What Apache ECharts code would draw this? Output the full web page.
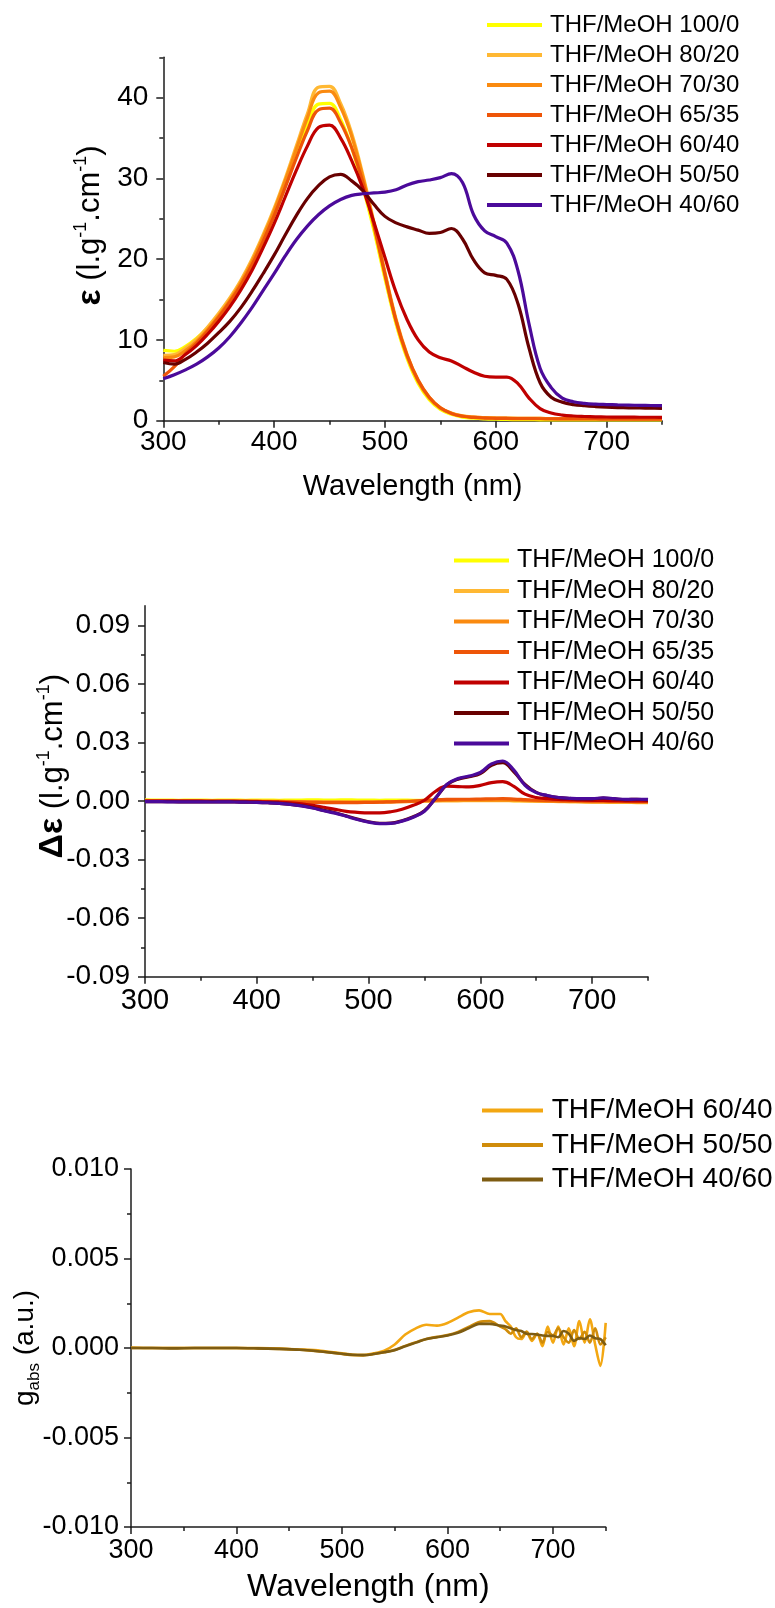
<!DOCTYPE html>
<html><head><meta charset="utf-8">
<script src="https://cdn.jsdelivr.net/npm/echarts@6/dist/echarts.min.js"></script>
<style>html,body{margin:0;padding:0;background:#fff;width:775px;height:1608px;overflow:hidden}
.c{position:absolute;left:0;top:0;width:775px;height:1608px;}</style>
</head><body>
<div id="c1" class="c"></div><div id="c2" class="c"></div><div id="c3" class="c"></div>
<script>
// ---------- DATA ----------
const wavelengths = [300,310,320,330,340,350,360,370,380,390,400,410,420,430,440,450,460,470,480,490,500,510,520,530,540,550,560,570,580,590,600,610,620,630,640,650,660,670,680,690,700,710,720,730,740,750];
const seriesNames = ['THF/MeOH 100/0','THF/MeOH 80/20','THF/MeOH 70/30','THF/MeOH 65/35','THF/MeOH 60/40','THF/MeOH 50/50','THF/MeOH 40/60'];
const colorsA = ['#FFFF00','#FFB833','#FA8A10','#EE5508','#C00000','#680000','#4B0A9A'];

// Panel 1: epsilon (l.g-1.cm-1)
const eps100_0 = [8.7,8.6,9.2,10.2,11.5,13.0,14.8,16.9,19.3,22.2,25.4,29.0,32.9,36.6,39.2,39.3,37.3,33.8,29.0,23.6,17.6,12.0,7.7,4.6,2.6,1.4,0.8,0.45,0.3,0.22,0.18,0.15,0.13,0.12,0.11,0.1,0.1,0.1,0.1,0.1,0.1,0.1,0.1,0.1,0.1,0.1];
const eps80_20 = [8.1,8.2,9.0,10.1,11.6,13.3,15.2,17.4,20.0,23.0,26.3,30.0,34.0,38.0,41.3,41.4,39.3,35.6,30.5,24.6,18.4,12.6,8.2,5.0,2.9,1.6,0.95,0.6,0.45,0.38,0.34,0.32,0.3,0.29,0.28,0.27,0.26,0.26,0.25,0.25,0.24,0.24,0.23,0.23,0.22,0.22];
const eps70_30 = [7.8,7.9,8.7,9.8,11.3,13.0,14.9,17.1,19.7,22.7,26.0,29.7,33.6,37.5,40.6,40.8,38.8,35.2,30.2,24.4,18.2,12.4,8.0,4.9,2.8,1.55,0.9,0.58,0.44,0.37,0.33,0.31,0.3,0.29,0.28,0.27,0.26,0.26,0.25,0.25,0.24,0.24,0.24,0.23,0.23,0.23];
const eps65_35 = [5.5,6.7,8.3,9.6,11.1,12.8,14.7,16.8,19.3,22.2,25.4,28.9,32.5,35.9,38.5,38.7,36.9,33.8,29.6,24.2,18.1,12.4,8.1,5.0,2.9,1.6,0.9,0.55,0.4,0.33,0.3,0.28,0.26,0.25,0.24,0.23,0.22,0.22,0.21,0.21,0.2,0.2,0.2,0.2,0.2,0.2];
const eps60_40 = [7.5,7.4,8.2,9.3,10.7,12.3,14.1,16.2,18.6,21.4,24.4,27.7,31.0,34.0,36.3,36.6,35.0,32.2,28.8,24.6,20.2,15.9,12.5,10.0,8.5,7.8,7.4,6.7,6.0,5.5,5.4,5.4,4.6,2.8,1.5,0.95,0.7,0.58,0.52,0.48,0.46,0.45,0.44,0.43,0.43,0.42];
const eps50_50 = [7.2,7.0,7.6,8.5,9.6,10.9,12.3,14.0,16.0,18.2,20.5,23.0,25.4,27.5,29.1,30.2,30.5,29.7,28.5,26.8,25.3,24.5,24.0,23.6,23.2,23.3,23.8,22.5,19.9,18.3,18.0,17.5,14.5,9.0,4.7,2.9,2.3,2.0,1.85,1.75,1.68,1.63,1.6,1.57,1.55,1.53];
const eps40_60 = [5.2,5.7,6.3,7.0,7.9,9.0,10.4,12.1,14.0,16.1,18.2,20.4,22.4,24.1,25.5,26.6,27.4,27.9,28.1,28.2,28.3,28.6,29.2,29.6,29.8,30.1,30.6,29.5,25.5,23.5,22.8,22.0,18.6,12.0,6.5,4.1,2.8,2.35,2.15,2.05,2.0,1.96,1.93,1.9,1.88,1.87];

// Panel 2: delta epsilon
const de100_0 = [0.0006,0.0005,0.0005,0.0004,0.0005,0.0005,0.0004,0.0005,0.0005,0.0004,0.0005,0.0005,0.0004,0.0005,0.0005,0.0006,0.0005,0.0005,0.0006,0.0005,0.0005,0.0004,0.0005,0.0005,0.0004,0.0004,0.0005,0.0004,0.0004,0.0003,0.0003,0.0003,0.0003,0.0002,0.0002,0.0002,0.0001,0.0001,0.0000,0.0000,-0.0001,-0.0001,0.0000,-0.0001,0.0000,-0.0001];
const de80_20 = [0.0003,0.0002,0.0002,0.0002,0.0002,0.0001,0.0001,0.0001,0.0000,0.0000,-0.0001,-0.0001,-0.0002,-0.0002,-0.0003,-0.0003,-0.0004,-0.0004,-0.0005,-0.0005,-0.0005,-0.0005,-0.0004,-0.0003,-0.0002,-0.0001,0.0000,0.0001,0.0001,0.0002,0.0002,0.0002,0.0002,0.0001,0.0000,-0.0001,-0.0002,-0.0003,-0.0004,-0.0005,-0.0006,-0.0006,-0.0007,-0.0007,-0.0008,-0.0008];
const de70_30 = [0.0002,0.0002,0.0001,0.0001,0.0001,0.0000,0.0000,0.0000,-0.0001,-0.0001,-0.0001,-0.0002,-0.0002,-0.0003,-0.0004,-0.0005,-0.0005,-0.0006,-0.0006,-0.0006,-0.0006,-0.0005,-0.0004,-0.0003,-0.0002,0.0000,0.0002,0.0003,0.0004,0.0004,0.0005,0.0005,0.0005,0.0004,0.0002,0.0001,0.0000,-0.0001,-0.0002,-0.0003,-0.0004,-0.0004,-0.0005,-0.0005,-0.0006,-0.0006];
const de65_35 = [0.0001,0.0001,0.0001,0.0000,0.0000,0.0000,0.0000,-0.0001,-0.0001,-0.0001,-0.0002,-0.0003,-0.0004,-0.0005,-0.0006,-0.0007,-0.0008,-0.0008,-0.0008,-0.0008,-0.0007,-0.0006,-0.0004,-0.0002,0.0000,0.0003,0.0006,0.0008,0.0009,0.0009,0.0010,0.0011,0.0012,0.0010,0.0007,0.0004,0.0002,0.0001,0.0000,0.0000,-0.0001,-0.0001,-0.0002,-0.0002,-0.0003,-0.0003];
const de60_40 = [0.0000,-0.0001,-0.0001,-0.0001,-0.0001,-0.0001,-0.0002,-0.0002,-0.0002,-0.0003,-0.0003,-0.0004,-0.0006,-0.0009,-0.0014,-0.0022,-0.0032,-0.0043,-0.0053,-0.0058,-0.0061,-0.0061,-0.0055,-0.0042,-0.0022,0.0004,0.0050,0.0076,0.0074,0.0072,0.0080,0.0094,0.0099,0.0075,0.0035,0.0018,0.0012,0.0008,0.0006,0.0004,0.0003,0.0003,0.0002,0.0001,0.0001,0.0000];
const de50_50 = [-0.0003,-0.0003,-0.0003,-0.0004,-0.0004,-0.0004,-0.0004,-0.0004,-0.0005,-0.0006,-0.0007,-0.0009,-0.0012,-0.0017,-0.0024,-0.0034,-0.0048,-0.0060,-0.0076,-0.0093,-0.0106,-0.0114,-0.0113,-0.0101,-0.0081,-0.0050,0.0015,0.0083,0.0112,0.0124,0.0140,0.0183,0.0196,0.0150,0.0085,0.0044,0.0027,0.0017,0.0013,0.0011,0.0011,0.0015,0.0011,0.0007,0.0009,0.0006];
const de40_60 = [-0.0003,-0.0003,-0.0004,-0.0004,-0.0004,-0.0004,-0.0005,-0.0004,-0.0005,-0.0006,-0.0007,-0.0009,-0.0012,-0.0017,-0.0025,-0.0036,-0.0050,-0.0062,-0.0078,-0.0095,-0.0108,-0.0116,-0.0115,-0.0103,-0.0083,-0.0052,0.0015,0.0085,0.0115,0.0128,0.0146,0.0190,0.0205,0.0158,0.0080,0.0043,0.0028,0.0018,0.0014,0.0012,0.0012,0.0016,0.0012,0.0008,0.0009,0.0008];

// Panel 3: g_abs
const gWavelengths = [300,320,340,360,380,400,420,440,460,480,500,510,520,530,540,550,560,570,580,590,600,610,620,630,640,650,655,660,665,670,675,680,685,690,695,700,705,710,715,720,725,730,735,740,745,750];
const gNames = ['THF/MeOH 60/40','THF/MeOH 50/50','THF/MeOH 40/60'];
const colorsG = ['#F3A712','#D08C0A','#7E5C12'];
const g60_40 = [0.00003,0,0,0,0,0,0,-0.00003,-0.00008,-0.00015,-0.0003,-0.00038,-0.0004,-0.0003,-0.00015,0.0002,0.00075,0.0011,0.0013,0.00125,0.0014,0.0017,0.002,0.0021,0.0019,0.0019,0.0015,0.0012,0.0006,0.0005,0.0009,0.0004,0.0008,0.0001,0.0012,0.0003,0.0012,0.0002,0.0011,0.0001,0.0015,0.0003,0.0016,0.0002,-0.001,0.0014];
const g50_50 = [0,0,0,0,0,0,-0.00002,-0.00005,-0.0001,-0.0002,-0.00033,-0.0004,-0.0004,-0.00034,-0.00024,-0.0001,0.00012,0.00032,0.0005,0.00062,0.00072,0.0009,0.00118,0.00145,0.0015,0.0012,0.00105,0.0008,0.0011,0.0006,0.0009,0.0005,0.0008,0.0003,0.0009,0.0007,0.0011,0.0006,0.0003,0.001,0.0005,0.0009,0.0003,0.0011,0.0002,0.0006];
const g40_60 = [0,0,-0.00002,0,0,0,-0.00002,-0.00005,-0.0001,-0.0002,-0.00032,-0.00038,-0.0004,-0.00034,-0.00024,-0.00012,0.0001,0.0003,0.0005,0.0006,0.0007,0.00085,0.0011,0.00135,0.00135,0.00125,0.0012,0.0011,0.001,0.00095,0.0008,0.00078,0.00075,0.0007,0.00068,0.00068,0.0006,0.00095,0.0008,0.0004,0.00055,0.0005,0.0007,0.00055,0.0005,0.00015];

const xMajor = [300,400,500,600,700];
const xMinor = [350,450,550,650,750];
const y1Major = [0,10,20,30,40];
const y1Minor = [5,15,25,35,45];
const y2Major = [-0.09,-0.06,-0.03,0,0.03,0.06,0.09];
const y2Minor = [-0.075,-0.045,-0.015,0.015,0.045,0.075];
const y3Major = [-0.01,-0.005,0,0.005,0.01];
const y3Minor = [-0.0075,-0.0025,0.0025,0.0075];

// ---------- HELPERS ----------
const FONT = '"Liberation Sans", Arial, Helvetica, sans-serif';
const AX = '#1c1c1c';
function axisPair(pos, min, max, majors, minors, fmt, fs, margin, extra) {
  const main = Object.assign({
    type:'value', min:min, max:max, position:pos, nameMoveOverlap:false,
    axisLine:{show:true, onZero:false, lineStyle:{color:AX, width:1.5}},
    axisTick:{show:true, inside:false, customValues:majors, length:7, lineStyle:{color:AX, width:1.5}},
    axisLabel:{show:true, customValues:majors, formatter:fmt, fontSize:fs, color:'#000', margin:margin, fontFamily:FONT},
    splitLine:{show:false}, minorTick:{show:false}
  }, extra || {});
  const minor = {
    type:'value', min:min, max:max, position:pos,
    axisLine:{show:false, onZero:false},
    axisTick:{show:true, inside:false, customValues:minors, length:4, lineStyle:{color:AX, width:1.5}},
    axisLabel:{show:false}, splitLine:{show:false}
  };
  return [main, minor];
}
function lineSeries(name, xs, ys, color, width, smooth) {
  return {
    type:'line', name:name, data: xs.map((x,i)=>[x, ys[i]]),
    xAxisIndex:0, yAxisIndex:0, showSymbol:false, symbol:'none',
    smooth:smooth, color:color,
    itemStyle:{color:color}, lineStyle:{color:color, width:width}, silent:true
  };
}
function legendCfg(names, left, top, fs, gap, w, h, pad) {
  return {
    orient:'vertical', left:left, top:top, itemWidth:w, itemHeight:h, itemGap:gap,
    icon:'rect', selectedMode:false, data:names, padding:0,
    textStyle:{fontSize:fs, color:'#000', fontFamily:FONT, lineHeight:fs, padding:[0,0,0,pad]}
  };
}
const richEps = {
  b:{fontSize:34, fontWeight:'bold', fontFamily:FONT, color:'#000', lineHeight:36},
  n:{fontSize:31, fontFamily:FONT, color:'#000', lineHeight:36},
  s:{fontSize:18, fontFamily:FONT, color:'#000', lineHeight:18, verticalAlign:'top'}
};

// ---------- PANEL 1 ----------
const c1 = echarts.init(document.getElementById('c1'), null, {renderer:'canvas'});
const x1 = axisPair('bottom', 300, 750, xMajor, xMinor, v=>String(v), 28, 8,
  {name:'Wavelength (nm)', nameLocation:'middle', nameGap:52, nameTextStyle:{fontSize:29, color:'#000', fontFamily:FONT}});
const y1 = axisPair('left', 0, 45, y1Major, y1Minor, v=>String(v), 28, 15,
  {name:'{b|ε}{n| (l.g}{s|-1}{n|.cm}{s|-1}{n|)}', nameLocation:'middle', nameRotate:90, nameGap:55,
   nameTextStyle:{rich:richEps, padding:[0,0,0,27]}});
const eps = [eps100_0, eps80_20, eps70_30, eps65_35, eps60_40, eps50_50, eps40_60];
c1.setOption({
  animation:false,
  grid:{left:163.3, top:57.3, width:498.7, height:363.4, outerBoundsMode:'none', containLabel:false},
  xAxis:x1, yAxis:y1,
  legend:legendCfg(seriesNames, 487, 13, 24, 6, 55, 4, 3),
  series: eps.map((arr,i)=>lineSeries(seriesNames[i], wavelengths, arr, colorsA[i], 3.2, 0.4))
});

// ---------- PANEL 2 ----------
const c2 = echarts.init(document.getElementById('c2'), null, {renderer:'canvas'});
const x2 = axisPair('bottom', 300, 750, xMajor, xMinor, v=>String(v), 29, 10);
const y2 = axisPair('left', -0.09, 0.1, y2Major, y2Minor, v=>(Math.abs(v)<1e-9?0:v).toFixed(2), 28, 15,
  {name:'{b|Δε}{n| (l.g}{s|-1}{n|.cm}{s|-1}{n|)}', nameLocation:'middle', nameRotate:90, nameGap:74,
   nameTextStyle:{rich:richEps, padding:[0,0,0,50]}});
const de = [de100_0, de80_20, de70_30, de65_35, de60_40, de50_50, de40_60];
c2.setOption({
  animation:false,
  grid:{left:145, top:605.8, width:503, height:370.9, outerBoundsMode:'none', containLabel:false},
  xAxis:x2, yAxis:y2,
  legend:legendCfg(seriesNames, 454, 548, 25, 5.5, 55, 4, 3),
  series: de.map((arr,i)=>lineSeries(seriesNames[i], wavelengths, arr, colorsA[i], 3.2, 0.4))
});

// ---------- PANEL 3 ----------
const c3 = echarts.init(document.getElementById('c3'), null, {renderer:'canvas'});
const x3 = axisPair('bottom', 300, 750, xMajor, xMinor, v=>String(v), 27, 10,
  {name:'Wavelength (nm)', nameLocation:'middle', nameGap:44, nameTextStyle:{fontSize:32, color:'#000', fontFamily:FONT}});
const y3 = axisPair('left', -0.01, 0.01, y3Major, y3Minor, v=>(Math.abs(v)<1e-12?0:v).toFixed(3), 27, 12,
  {name:'{n|g}{sub|abs}{n| (a.u.)}', nameLocation:'middle', nameRotate:90, nameGap:88,
   nameTextStyle:{rich:{
     n:{fontSize:28, fontFamily:FONT, color:'#000', lineHeight:36},
     sub:{fontSize:17, fontFamily:FONT, color:'#000', lineHeight:17, verticalAlign:'bottom'}
   }}});
const gs = [g60_40, g50_50, g40_60];
c3.setOption({
  animation:false,
  grid:{left:131, top:1169, width:474.7, height:358, outerBoundsMode:'none', containLabel:false},
  xAxis:x3, yAxis:y3,
  legend:legendCfg(gNames, 482, 1096.6, 28, 6.4, 61, 4, 3.7),
  series: gs.map((arr,i)=>lineSeries(gNames[i], gWavelengths, arr, colorsG[i], 2.6, 0.3))
});
</script>
</body></html>
